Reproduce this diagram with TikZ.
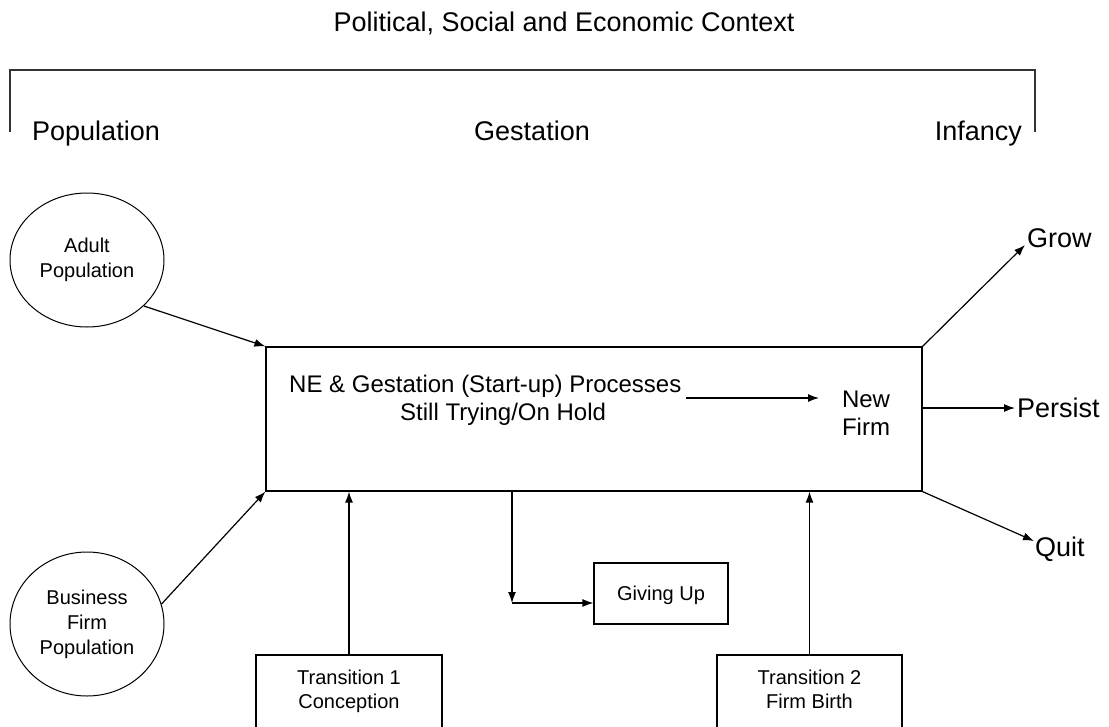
\documentclass[tikz,border=0pt]{standalone}
\usepackage{fontspec}
\setmainfont{Liberation Sans}
\usetikzlibrary{arrows.meta,shapes.geometric}
\begin{document}
\begin{tikzpicture}[x=1pt,y=-1pt,
  every node/.style={inner sep=0pt},
  line/.style={line width=1.2pt},
  arr/.style={line width=1.2pt,-{Latex[length=11pt,width=8pt]}},
  box/.style={draw,line width=1.2pt},
  oval/.style={draw,ellipse,line width=1pt,align=center,font=\fontsize{20}{25}\selectfont},
  big/.style={font=\fontsize{27}{32}\selectfont},
  mid/.style={font=\fontsize{24}{28}\selectfont},
  small/.style={font=\fontsize{20}{24}\selectfont},
]
\useasboundingbox (0,0) rectangle (1109,726);
\clip (0,0) rectangle (1109,726);

% title and bracket
\node[big,anchor=base] (title) at (564,31) {Political, Social and Economic Context};
\coordinate (bl) at (10,132);
\coordinate (tl) at (10,70);
\coordinate (tr) at (1035,70);
\coordinate (br) at (1035,132);
\draw[line,black!80] (bl) -- (tl) -- (tr) -- (br);
\node[big,anchor=base west] (pop) at (32,140) {Population};
\node[big,anchor=base] (gest) at (532,140) {Gestation};
\node[big,anchor=base east] (inf) at (1022,140) {Infancy};

% populations
\node[oval,minimum width=154pt,minimum height=134pt] (adult) at (87,260) {Adult\\Population};
\node[oval,minimum width=154pt,minimum height=144pt] (biz) at (87,624) {Business\\Firm\\Population};

% main box
\node[box,minimum width=656pt,minimum height=144pt] (main) at (594,419) {};
\node[mid,anchor=base west] (ne1) at (289,392) {NE \& Gestation (Start-up) Processes};
\node[mid,anchor=base west] (ne2) at (400,420) {Still Trying/On Hold};
\node[mid,anchor=base] (nf1) at (866,407) {New};
\node[mid,anchor=base] (nf2) at (866,435) {Firm};
\coordinate (a1) at (686,398);
\coordinate (a2) at (819,398);
\draw[arr] (a1) -- (a2);

% outcomes
\coordinate (growtip) at (1025,245);
\coordinate (pertip) at (1015,408);
\coordinate (quittip) at (1034,541);
\draw[arr] (main.north east) -- (growtip);
\draw[arr] (pertip -| main.east) -- (pertip);
\draw[arr] (main.south east) -- (quittip);
\node[big,anchor=base west] (grow) at (1027,247) {Grow};
\node[big,anchor=base west] (persist) at (1017,417) {Persist};
\node[big,anchor=base west] (quit) at (1035,556) {Quit};

% inputs
\draw[arr] (adult.-39) -- (main.north west);
\draw[arr] (biz.15) -- (main.south west);

% giving up
\node[box,minimum width=134pt,minimum height=61pt] (gu) at (661,593.5) {};
\node[small,anchor=base] (gutext) at (661,600) {Giving Up};
\coordinate (gc) at (512,603);
\draw[arr] (gc |- main.south) -- (gc);
\draw[arr] (gc) -- (gc -| gu.west);

% transitions
\node[box,minimum width=186pt,minimum height=90pt] (t1) at (349,700) {};
\node[small,anchor=base] (t1a) at (349,684) {Transition 1};
\node[small,anchor=base] (t1b) at (349,708) {Conception};
\node[box,minimum width=185pt,minimum height=90pt] (t2) at (809.5,700) {};
\node[small,anchor=base] (t2a) at (809.5,684) {Transition 2};
\node[small,anchor=base] (t2b) at (809.5,708) {Firm Birth};
\draw[arr] (t1.north) -- (t1.north |- main.south);
\draw[arr] (t2.north) -- (t2.north |- main.south);
\end{tikzpicture}
\end{document}
